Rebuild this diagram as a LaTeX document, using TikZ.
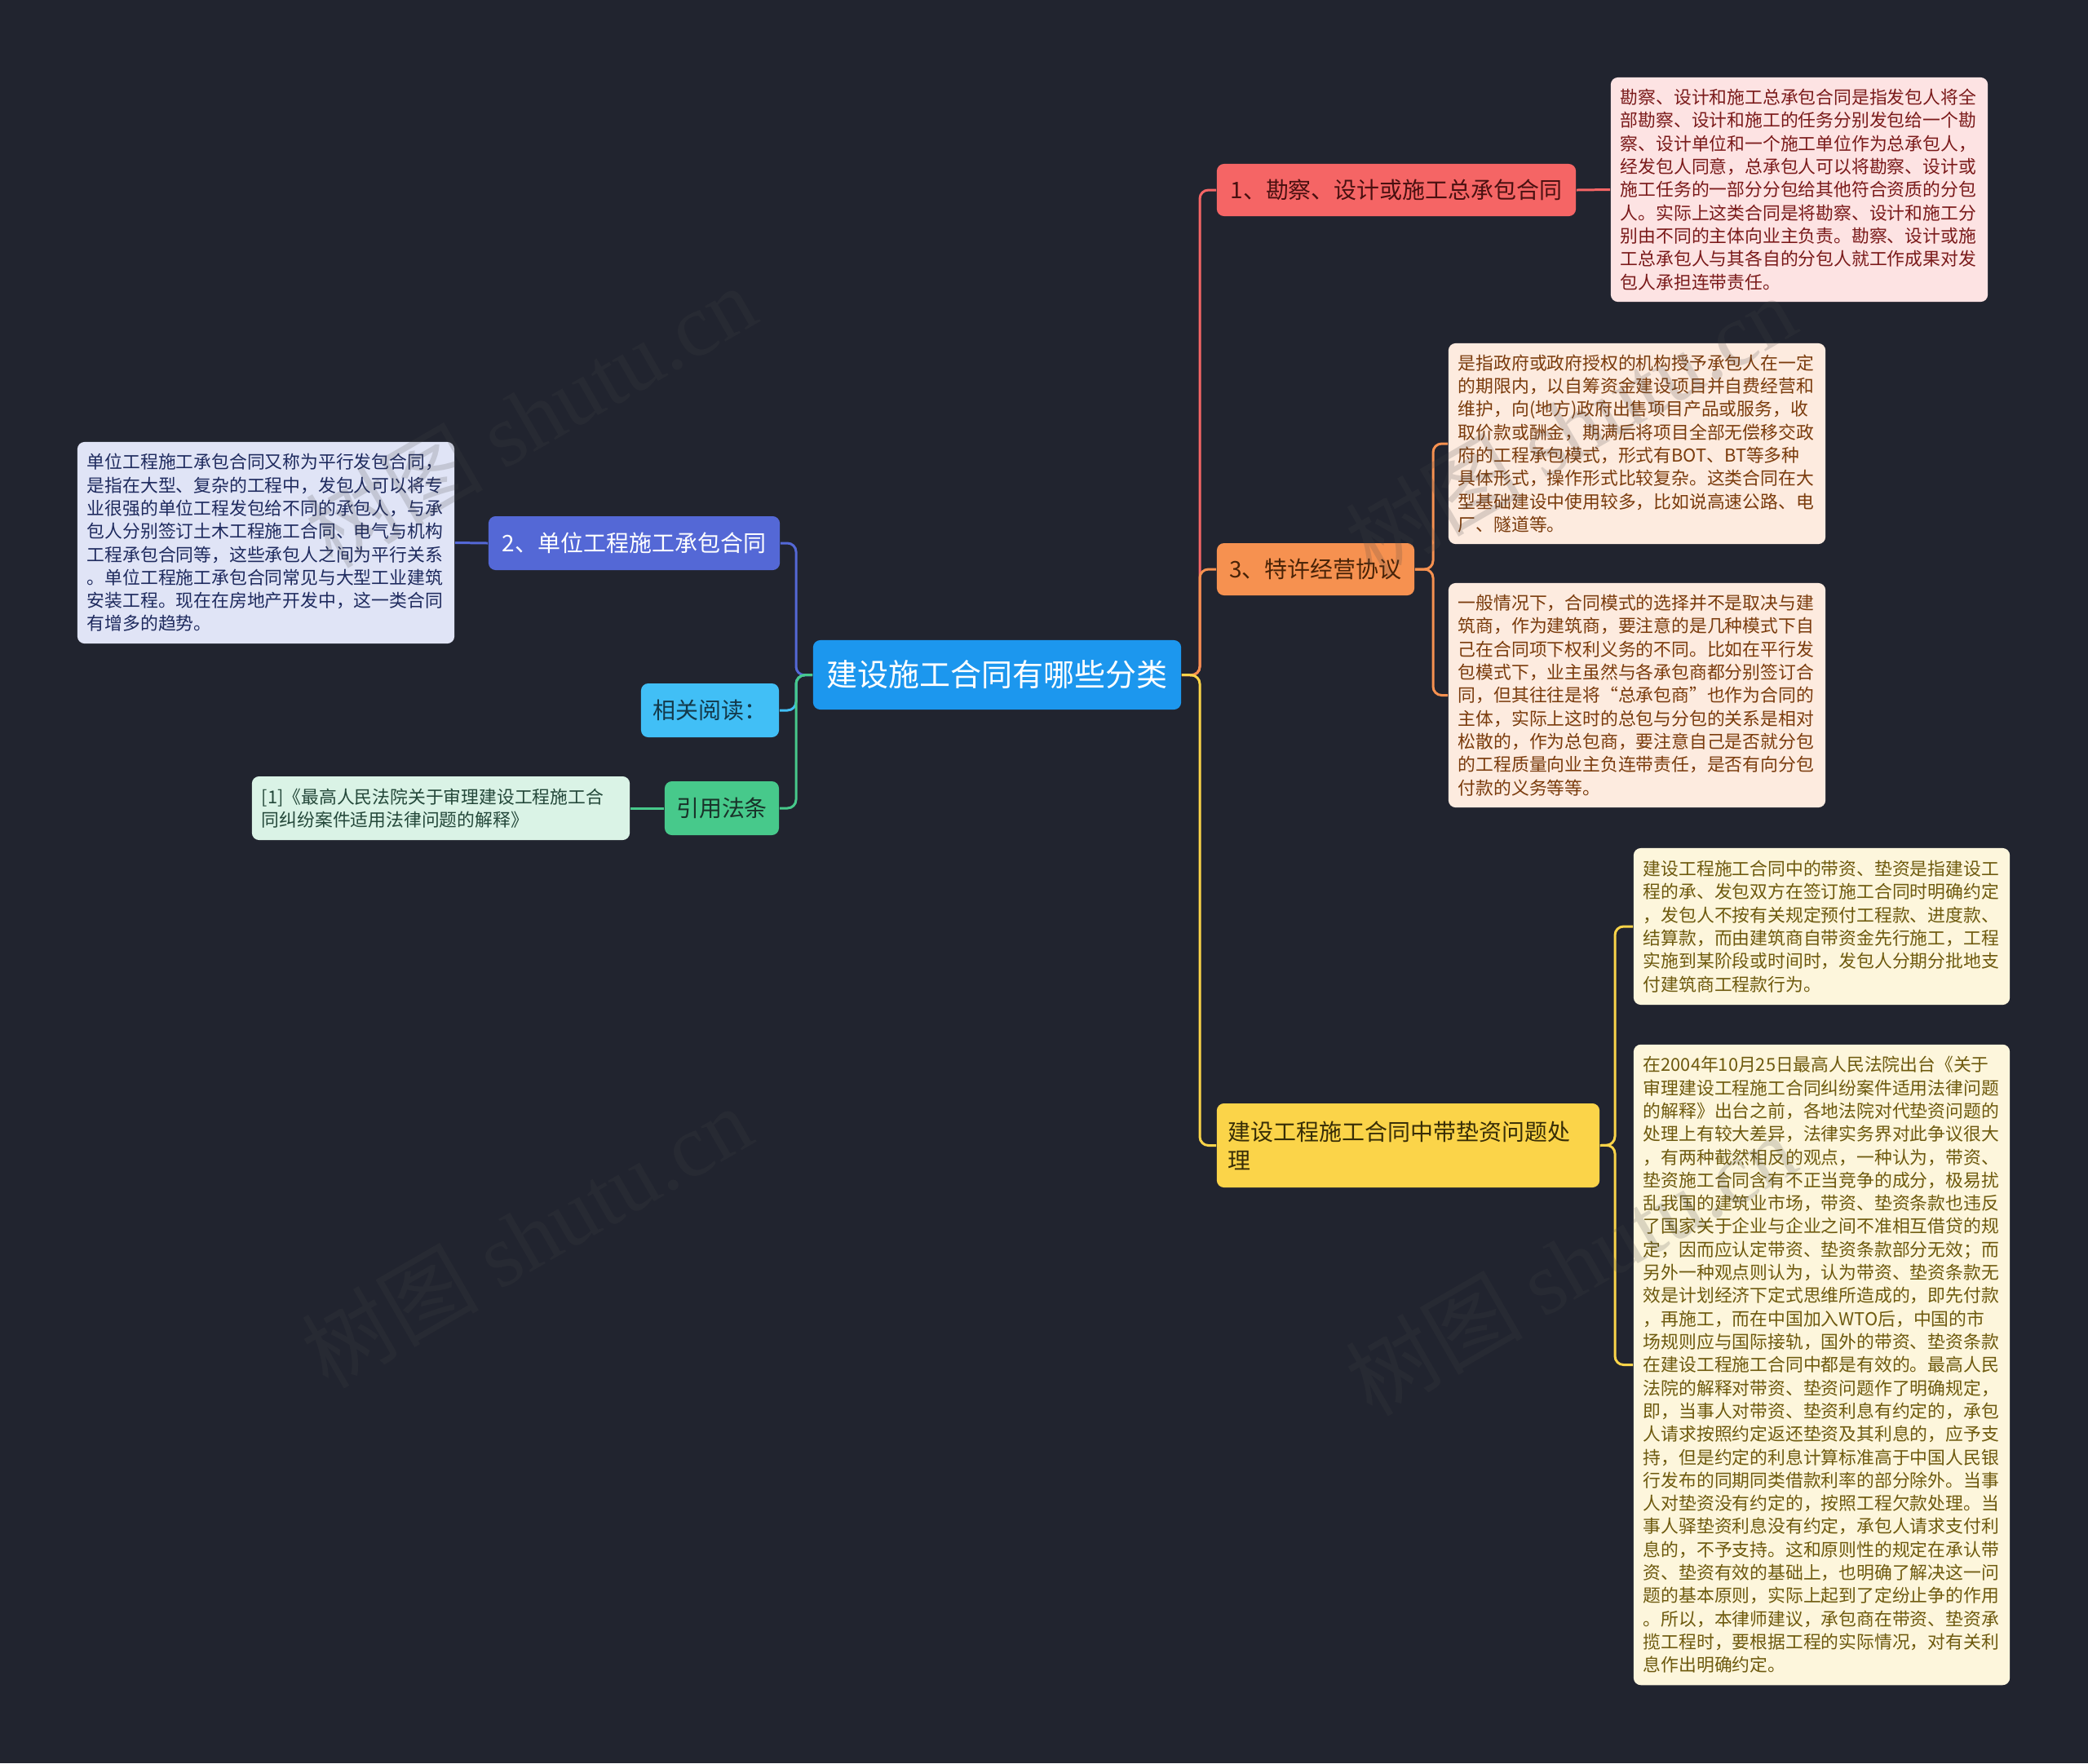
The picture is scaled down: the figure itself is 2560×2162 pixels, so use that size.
\documentclass[tikz,border=0pt]{standalone}
\usepackage{fontspec}
\setmainfont{Noto Sans CJK SC}
\newfontfamily\wmserif{Liberation Serif}

% colours of the map
\definecolor{bgdark}{HTML}{21242F}
\definecolor{rootblue}{HTML}{1C97EE}
\definecolor{redtopic}{HTML}{F56565}
\definecolor{reddetail}{HTML}{FDE3E3}
\definecolor{redtext}{HTML}{7A1A1A}
\definecolor{orangetopic}{HTML}{F69150}
\definecolor{orangedetail}{HTML}{FDEBDF}
\definecolor{orangetext}{HTML}{7A3B0C}
\definecolor{yellowtopic}{HTML}{FBD449}
\definecolor{yellowdetail}{HTML}{FDF6DC}
\definecolor{yellowtext}{HTML}{6E5A0E}
\definecolor{bluetopic}{HTML}{5468D6}
\definecolor{bluedetail}{HTML}{E0E4F6}
\definecolor{bluetext}{HTML}{1E2A5E}
\definecolor{skytopic}{HTML}{41BFF6}
\definecolor{greentopic}{HTML}{47C98B}
\definecolor{greendetail}{HTML}{DAF3E6}
\definecolor{greentext}{HTML}{24483A}
\definecolor{wmgray}{HTML}{464646}

\tikzset{
  topic/.style={rounded corners=2.5pt, inner sep=0pt, align=center,
    font=\fontsize{7.95pt}{9.96pt}\selectfont},
  detail/.style={rounded corners=2.5pt, inner xsep=0.12cm, inner ysep=0pt, align=left,
    font=\fontsize{6.2pt}{8.05pt}\selectfont},
  link/.style={line width=0.85pt, rounded corners=3pt},
  wmark/.style={text=wmgray, opacity=0.19, rotate=30,
    font=\fontsize{31pt}{31pt}\selectfont}
}

\begin{document}
\begin{tikzpicture}[x=0.01cm, y=-0.01cm]
% background and page size
\fill[bgdark] (0,0) rectangle (2560,2162);
\useasboundingbox (0,0) rectangle (2560,2162);

% trunks of the branches
\coordinate (rt) at (1471,828);
\coordinate (lt) at (976,828);
\coordinate (t3) at (1757,698);
\coordinate (t4) at (1980,1404);

% root
\node[topic, fill=rootblue, text=white, minimum width=4.51cm, minimum height=0.85cm,
  font=\fontsize{10.8pt}{13pt}\selectfont] (root) at (1222.5,827.5) {建设施工合同有哪些分类};

% right side topics
\node[topic, fill=redtopic, text=redtext!60!black, minimum width=4.40cm, minimum height=0.64cm]
  (n1) at (1712,233) {1、勘察、设计或施工总承包合同};
\node[topic, fill=orangetopic, text=orangetext!60!black, minimum width=2.42cm, minimum height=0.64cm]
  (n3) at (1613,698) {3、特许经营协议};
\node[topic, fill=yellowtopic, text=yellowtext!50!black, minimum width=4.69cm, minimum height=1.03cm,
  align=left, text width=4.41cm] (n4) at (1726.5,1404.5) {建设工程施工合同中带垫资问题处\\理};

% left side topics
\node[topic, fill=bluetopic, text=white, minimum width=3.57cm, minimum height=0.66cm]
  (n2) at (777.5,666) {2、单位工程施工承包合同};
\node[topic, fill=skytopic, text=skytopic!30!black, minimum width=1.69cm, minimum height=0.66cm]
  (read) at (870.5,871) {相关阅读：};
\node[topic, fill=greentopic, text=greentext!70!black, minimum width=1.40cm, minimum height=0.66cm]
  (law) at (885,991) {引用法条};

% details
\node[detail, fill=reddetail, text=redtext, minimum width=4.62cm, minimum height=2.75cm, text width=4.38cm]
  (d1) at (2206,232.5) {勘察、设计和施工总承包合同是指发包人将全\\部勘察、设计和施工的任务分别发包给一个勘\\察、设计单位和一个施工单位作为总承包人，\\经发包人同意，总承包人可以将勘察、设计或\\施工任务的一部分分包给其他符合资质的分包\\人。实际上这类合同是将勘察、设计和施工分\\别由不同的主体向业主负责。勘察、设计或施\\工总承包人与其各自的分包人就工作成果对发\\包人承担连带责任。};
\node[detail, fill=orangedetail, text=orangetext, minimum width=4.62cm, minimum height=2.46cm, text width=4.38cm]
  (d3a) at (2007,544) {是指政府或政府授权的机构授予承包人在一定\\的期限内，以自筹资金建设项目并自费经营和\\维护，向(地方)政府出售项目产品或服务，收\\取价款或酬金，期满后将项目全部无偿移交政\\府的工程承包模式，形式有BOT、BT等多种\\具体形式，操作形式比较复杂。这类合同在大\\型基础建设中使用较多，比如说高速公路、电\\厂、隧道等。};
\node[detail, fill=orangedetail, text=orangetext, minimum width=4.62cm, minimum height=2.75cm, text width=4.38cm]
  (d3b) at (2007,852.5) {一般情况下，合同模式的选择并不是取决与建\\筑商，作为建筑商，要注意的是几种模式下自\\己在合同项下权利义务的不同。比如在平行发\\包模式下，业主虽然与各承包商都分别签订合\\同，但其往往是将“总承包商”也作为合同的\\主体，实际上这时的总包与分包的关系是相对\\松散的，作为总包商，要注意自己是否就分包\\的工程质量向业主负连带责任，是否有向分包\\付款的义务等等。};
\node[detail, fill=yellowdetail, text=yellowtext, minimum width=4.61cm, minimum height=1.92cm, text width=4.37cm]
  (d4a) at (2233.5,1136) {建设工程施工合同中的带资、垫资是指建设工\\程的承、发包双方在签订施工合同时明确约定\\，发包人不按有关规定预付工程款、进度款、\\结算款，而由建筑商自带资金先行施工，工程\\实施到某阶段或时间时，发包人分期分批地支\\付建筑商工程款行为。};
\node[detail, fill=yellowdetail, text=yellowtext, minimum width=4.61cm, minimum height=7.85cm, text width=4.37cm]
  (d4b) at (2233.5,1673.5) {在2004年10月25日最高人民法院出台《关于\\审理建设工程施工合同纠纷案件适用法律问题\\的解释》出台之前，各地法院对代垫资问题的\\处理上有较大差异，法律实务界对此争议很大\\，有两种截然相反的观点，一种认为，带资、\\垫资施工合同含有不正当竞争的成分，极易扰\\乱我国的建筑业市场，带资、垫资条款也违反\\了国家关于企业与企业之间不准相互借贷的规\\定，因而应认定带资、垫资条款部分无效；而\\另外一种观点则认为，认为带资、垫资条款无\\效是计划经济下定式思维所造成的，即先付款\\，再施工，而在中国加入WTO后，中国的市\\场规则应与国际接轨，国外的带资、垫资条款\\在建设工程施工合同中都是有效的。最高人民\\法院的解释对带资、垫资问题作了明确规定，\\即，当事人对带资、垫资利息有约定的，承包\\人请求按照约定返还垫资及其利息的，应予支\\持，但是约定的利息计算标准高于中国人民银\\行发布的同期同类借款利率的部分除外。当事\\人对垫资没有约定的，按照工程欠款处理。当\\事人驿垫资利息没有约定，承包人请求支付利\\息的，不予支持。这和原则性的规定在承认带\\资、垫资有效的基础上，也明确了解决这一问\\题的基本原则，实际上起到了定纷止争的作用\\。所以，本律师建议，承包商在带资、垫资承\\揽工程时，要根据工程的实际情况，对有关利\\息作出明确约定。};
\node[detail, fill=bluedetail, text=bluetext, minimum width=4.62cm, minimum height=2.47cm, text width=4.38cm]
  (d2) at (326,665.5) {单位工程施工承包合同又称为平行发包合同，\\是指在大型、复杂的工程中，发包人可以将专\\业很强的单位工程发包给不同的承包人，与承\\包人分别签订土木工程施工合同、电气与机构\\工程承包合同等，这些承包人之间为平行关系\\。单位工程施工承包合同常见与大型工业建筑\\安装工程。现在在房地产开发中，这一类合同\\有增多的趋势。};
\node[detail, fill=greendetail, text=greentext, minimum width=4.63cm, minimum height=0.78cm, text width=4.39cm]
  (dlaw) at (540.5,991) {[1]《最高人民法院关于审理建设工程施工合\\同纠纷案件适用法律问题的解释》};

% connectors, right
\draw[link, redtopic] (root.east) -- (rt) |- (n1.west);
\draw[link, orangetopic] (root.east) -- (rt) |- (n3.west);
\draw[link, yellowtopic] (root.east) -- (rt) |- (n4.west);
\draw[link, redtopic] (n1.east) -- (d1.west);
\draw[link, orangetopic] (n3.east) -- (t3) |- (d3a.west);
\draw[link, orangetopic] (n3.east) -- (t3) |- (d3b.west);
\draw[link, yellowtopic] (n4.east) -- (t4) |- (d4a.west);
\draw[link, yellowtopic] (n4.east) -- (t4) |- (d4b.west);

% connectors, left
\draw[link, bluetopic] (root.west) -- (lt) |- (n2.east);
\draw[link, skytopic] (root.west) -- (lt) |- (read.east);
\draw[link, greentopic] (root.west) -- (lt) |- (law.east);
\draw[link, bluetopic] (n2.west) -- (d2.east);
\draw[link, greentopic] (law.west) -- (dlaw.east);

% watermark
\foreach \i/\x/\y in {1/650/510, 2/645/1516, 3/1925/522, 4/1925/1550} {
  \node[wmark] (wm\i) at (\x,\y) {树图 {\wmserif shutu.cn}};
}
\end{tikzpicture}
\end{document}
